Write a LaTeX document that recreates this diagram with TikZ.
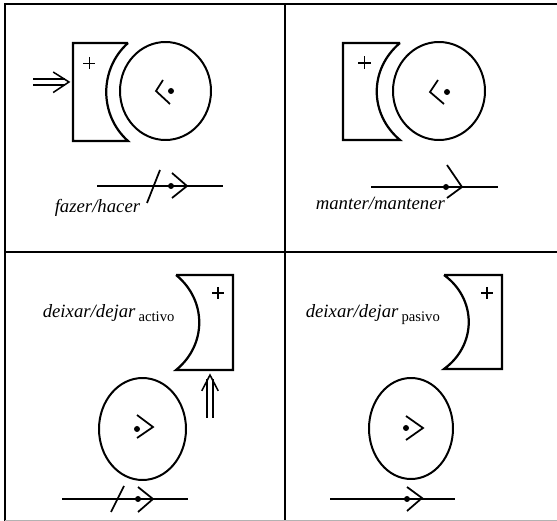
\documentclass[tikz,border=0pt]{standalone}
\usepackage{fontspec}
\setmainfont{Liberation Serif}
\usetikzlibrary{shapes.geometric}
\tikzset{
  wheel/.style={draw, ellipse, line width=1.7pt, inner sep=0pt},
  punto/.style={circle, fill, inner sep=0pt, minimum size=1.8mm},
  shoe/.style={line width=1.9pt, line join=miter},
  push/.style={line width=1.3pt},
  track/.style={line width=1.7pt}
}
\begin{document}
\begin{tikzpicture}[x=0.3mm, y=-0.3mm, line width=1.5pt,
    every node/.style={font=\fontsize{16}{19}\selectfont}]
  \useasboundingbox (0,0) rectangle (557,521);
  % frame
  \draw[line width=1.3pt] (5,521) -- (5,4) -- (557,4);
  \draw[line width=1.3pt] (285,4) -- (285,521);
  \draw[line width=1.3pt] (5,252) -- (557,252);
  \draw[line width=0.6pt, gray!60] (5,520) -- (557,520);

  % fazer/hacer
  \draw[shoe] (128,43) -- (73,43) -- (73,141) -- (128,141)
    .. controls (99,115) and (99,69) .. (128,43);
  \draw[line width=0.6pt] (83,63) -- (95,63) (89,57) -- (89,69);
  \coordinate (a1) at (33,82);
  \coordinate (b1) at (69,82);
  \draw[push] ([yshift=2.6pt]a1) -- ([xshift=-3pt, yshift=2.6pt]b1)
              ([yshift=-2.6pt]a1) -- ([xshift=-3pt, yshift=-2.6pt]b1);
  \draw[push] ([xshift=-13.5pt, yshift=8.5pt]b1) -- (b1)
              -- ([xshift=-13.5pt, yshift=-9pt]b1);
  \node[wheel, minimum width=27.3mm, minimum height=29.4mm] (c1) at (165.5,91) {};
  \node[punto] (d1) at (171,91) {};
  \draw (163,80) -- (156,91) -- (170,104);
  \coordinate (l1) at (97,186);
  \coordinate (r1) at (223,186);
  \draw[track] (l1) -- (r1);
  \draw (147,203) -- (160,170);
  \node[punto] (e1) at (171,186) {};
  \draw (172,173) -- (187,186) -- (172,198);
  \node[anchor=base west] (t1) at (50,213) {\textit{fazer/hacer}};

  % manter/mantener
  \draw[shoe] (400,43) -- (343,43) -- (343,140) -- (400,140)
    .. controls (369,114) and (369,69) .. (400,43);
  \draw[line width=1pt] (358,63) -- (371,63) (364.5,56.5) -- (364.5,69.5);
  \node[wheel, minimum width=27.6mm, minimum height=29.4mm] (c2) at (439,91) {};
  \node[punto] (d2) at (447,92) {};
  \draw (438,80) -- (430,92) -- (444,104);
  \coordinate (l2) at (371,187);
  \coordinate (r2) at (498,187);
  \draw[track] (l2) -- (r2);
  \node[punto] (e2) at (446,187) {};
  \draw (447,165) -- (462,187) -- (447,198);
  \node[anchor=base west] (t2) at (311,210) {\textit{manter/mantener}};

  % deixar/dejar activo
  \draw[shoe] (176,275) -- (233,275) -- (233,370) -- (176,370)
    .. controls (207,345) and (207,300) .. (176,275);
  \draw[line width=0.9pt] (212,293) -- (224,293) (218,287) -- (218,299);
  \coordinate (a3) at (210,418);
  \coordinate (b3) at (210,375);
  \draw[push] ([xshift=-2.6pt]a3) -- ([xshift=-2.6pt, yshift=-3pt]b3)
              ([xshift=2.6pt]a3) -- ([xshift=2.6pt, yshift=-3pt]b3);
  \draw[push] ([xshift=-7pt, yshift=-13.5pt]b3) -- (b3)
              -- ([xshift=7pt, yshift=-13.5pt]b3);
  \node[wheel, minimum width=26.1mm, minimum height=30.6mm] (c3) at (142.5,429) {};
  \node[punto] (d3) at (137,429) {};
  \draw (137,415) -- (153,427) -- (137,438);
  \coordinate (l3) at (62,499);
  \coordinate (r3) at (188,499);
  \draw[track] (l3) -- (r3);
  \draw (111,512) -- (124,486);
  \node[punto] (e3) at (138,499) {};
  \draw (138,487) -- (153,499) -- (138,512);
  \node[anchor=base west] (t3) at (38,318)
    {\textit{deixar/dejar}\,\raisebox{-0.45ex}{\fontsize{12.5}{14}\selectfont activo}};

  % deixar/dejar pasivo
  \draw[shoe] (444,275) -- (502,275) -- (502,369) -- (444,369)
    .. controls (477,345) and (477,299) .. (444,275);
  \draw[line width=0.9pt] (481,293) -- (493,293) (487,287) -- (487,299);
  \node[wheel, minimum width=25.2mm, minimum height=30.3mm] (c4) at (411,428.5) {};
  \node[punto] (d4) at (406,428) {};
  \draw (406,416) -- (423,428) -- (406,440);
  \coordinate (l4) at (330,499);
  \coordinate (r4) at (455,499);
  \draw[track] (l4) -- (r4);
  \node[punto] (e4) at (407,499) {};
  \draw (407,487) -- (422,498) -- (407,511);
  \node[anchor=base west] (t4) at (301,318)
    {\textit{deixar/dejar}\,\raisebox{-0.45ex}{\fontsize{12.5}{14}\selectfont pasivo}};
\end{tikzpicture}
\end{document}
